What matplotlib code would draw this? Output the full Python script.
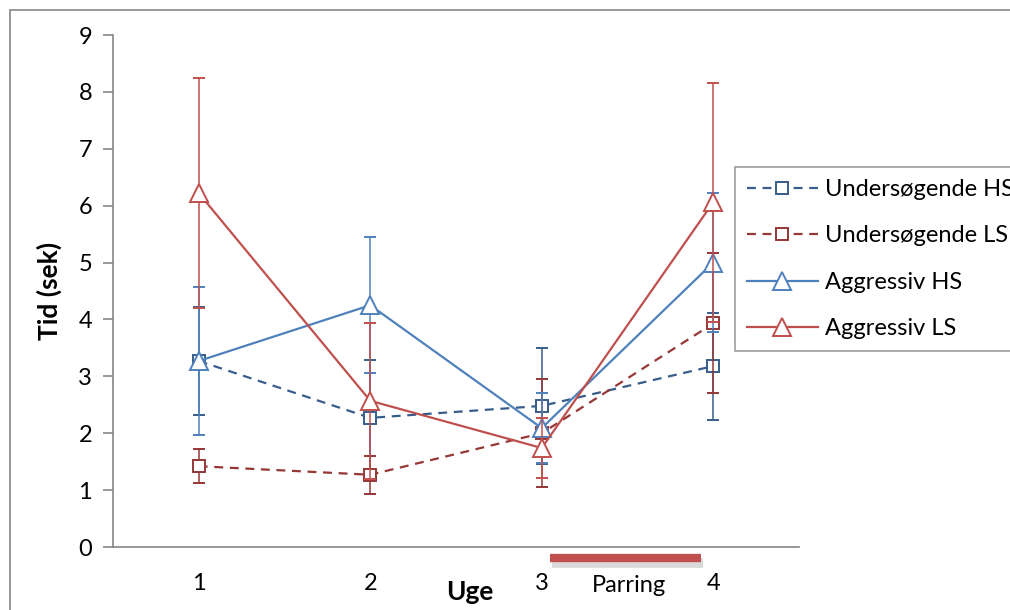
import matplotlib
matplotlib.use("Agg")
import matplotlib.pyplot as plt
from matplotlib.patches import Rectangle
from matplotlib.lines import Line2D

plt.rcParams['font.family'] = ['Lato', 'DejaVu Sans']

# data
weeks = [1, 2, 3, 4]
week_labels = ["1", "2", "3", "4"]
und_hs = [3.27, 2.27, 2.48, 3.18]
und_hs_err = [0.95, 1.02, 1.02, 0.94]
und_ls = [1.42, 1.27, 2.00, 3.93]
und_ls_err = [0.30, 0.33, 0.95, 1.23]
agg_hs = [3.27, 4.25, 2.09, 5.00]
agg_hs_err = [1.30, 1.20, 0.62, 1.22]
agg_ls = [6.22, 2.57, 1.74, 6.06]
agg_ls_err = [2.02, 1.37, 0.52, 2.10]

BLUE = "#4F81BD"
DBLUE = "#385D8A"
RED = "#C0504D"
DRED = "#953735"
GRAY = "#868686"

fig = plt.figure(figsize=(10.1, 6.1), dpi=100)
# outer chart border (cropped on right/bottom)
fig.patches.append(Rectangle((10 / 1010, -0.1), 1.2, 1 - 10 / 610 + 0.1,
                             transform=fig.transFigure, fill=False,
                             edgecolor=GRAY, linewidth=1.2))

ax = fig.add_axes([113 / 1010, 63 / 610, 686 / 1010, 512 / 610])

series = [
    ("Undersøgende HS", und_hs, und_hs_err, DBLUE, "--", "s", 9),
    ("Undersøgende LS", und_ls, und_ls_err, DRED, "--", "s", 9),
    ("Aggressiv HS", agg_hs, agg_hs_err, BLUE, "-", "^", 13),
    ("Aggressiv LS", agg_ls, agg_ls_err, RED, "-", "^", 13),
]
handles = []
for i, (name, vals, err, col, ls, mk, ms) in enumerate(series):
    dash = (4, 3) if ls == "--" else (None, None)
    ax.errorbar(weeks, vals, yerr=err, color=col, linestyle=ls, linewidth=1.6,
                dashes=dash, marker=mk, markersize=ms, markerfacecolor="white",
                markeredgecolor=col, markeredgewidth=1.4,
                ecolor=col, elinewidth=1.1, capsize=4.5, capthick=1.1,
                zorder=3 + i)
    h = Line2D([], [], color=col, linestyle=ls, linewidth=1.6, marker=mk,
               markersize=ms, markerfacecolor="white", markeredgecolor=col,
               markeredgewidth=1.4, label=name)
    if ls == "--":
        h.set_dashes(dash)
    handles.append(h)

ax.set_xlim(0.5, 4.5)
ax.set_ylim(0, 9)
ax.set_yticks(range(0, 10))
ax.set_xticks(weeks)
ax.set_xticklabels(week_labels)
for s in ["top", "right"]:
    ax.spines[s].set_visible(False)
for s in ["left", "bottom"]:
    ax.spines[s].set_color(GRAY)
    ax.spines[s].set_linewidth(1.2)
ax.tick_params(axis="y", colors=GRAY, length=7, width=1.2, labelsize=17,
               labelcolor="black", pad=8)
ax.tick_params(axis="x", length=0, labelsize=17, labelcolor="black", pad=19)

ax.set_ylabel("Tid (sek)", fontsize=19, fontweight="bold", labelpad=12)
fig.text(470 / 1010, 1 - 592 / 610, "Uge", fontsize=19, fontweight="bold",
         ha="center", va="center")

# mating period bar with shadow
xt = ax.get_xaxis_transform()
ax.plot([3.06, 3.94], [-0.031, -0.031], color="#a0a0a0", linewidth=7,
        alpha=0.4, solid_capstyle="butt", transform=xt, clip_on=False)
ax.plot([3.05, 3.93], [-0.0215, -0.0215], color=RED, linewidth=6,
        solid_capstyle="butt", transform=xt, clip_on=False)
fig.text(629 / 1010, 1 - 586 / 610, "Parring", fontsize=17,
         ha="center", va="center")

leg = ax.legend(handles=handles, loc="upper left",
                bbox_to_anchor=(735 / 1010, 1 - 167 / 610),
                bbox_transform=fig.transFigure, fontsize=17, frameon=True,
                fancybox=False, edgecolor=GRAY, handlelength=3.0,
                labelspacing=1.08, borderpad=0.5, handletextpad=0.3,
                borderaxespad=0)
leg.get_frame().set_linewidth(1.2)
leg.set_clip_on(False)

fig.savefig("out.png", dpi=100)
